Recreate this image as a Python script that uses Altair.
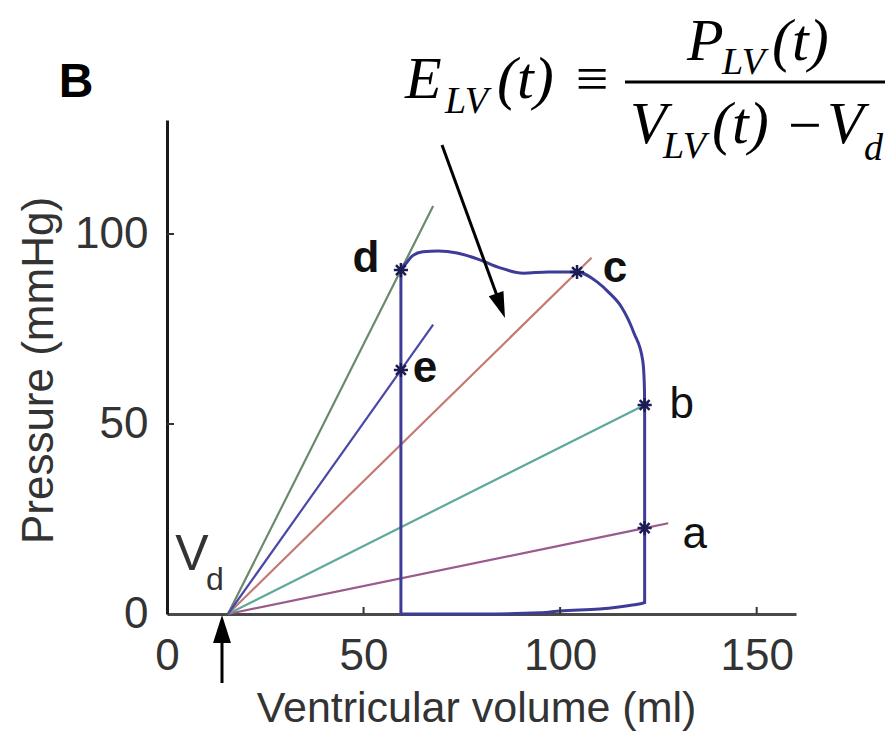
import altair as alt
import pandas as pd

# ---------------- data ----------------
vd_volume = 15.5  # dead volume V_d (ml)

loop_volume = [59.5, 80, 95, 100, 110, 118, 121.5, 121.5, 121.5, 121.4, 121.0,
               118.8, 115.6, 112.5, 109.4, 104.3, 97, 90.6, 84.7, 79.6, 73.8,
               69, 65.1, 62.5, 61, 59.5, 59.5, 59.5]
loop_pressure = [0, 0, 0.3, 0.8, 1.3, 2.3, 3, 22.6, 55, 61, 66.8,
                 73.9, 80.8, 84.5, 87.4, 90, 90, 89.7, 91.1, 93.2, 95,
                 95.5, 95.3, 94.3, 92.5, 90.5, 64.2, 0]

point_labels = ["a", "b", "c", "d", "e"]
point_volume = [121.5, 121.5, 104.3, 59.5, 59.5]
point_pressure = [22.6, 55, 90, 90.5, 64.2]
extension_volume = [127.5, 122.5, 108, 67.7, 67.7]
line_colors = ["#9b5a8c", "#5fa89a", "#c47a72", "#6b8a6b", "#4a48a8"]

x_ticks = [0, 50, 100, 150]
y_ticks = [0, 50, 100]

# ---------------- layout ----------------
W, H = 629, 494
SANS = "Liberation Sans, Arial, sans-serif"
SERIF = "Liberation Serif, Times New Roman, serif"
TXT = "#333333"

loop_df = pd.DataFrame({"V": loop_volume, "P": loop_pressure,
                        "i": list(range(len(loop_volume)))})

rows = []
for lab, pv, pp, ev in zip(point_labels, point_volume, point_pressure, extension_volume):
    slope = pp / (pv - vd_volume)
    rows.append({"label": lab, "k": 0, "V": vd_volume, "P": 0.0})
    rows.append({"label": lab, "k": 1, "V": pv, "P": pp})
    rows.append({"label": lab, "k": 2, "V": ev, "P": slope * (ev - vd_volume)})
elast_df = pd.DataFrame(rows)
points_df = pd.DataFrame({"label": point_labels, "V": point_volume, "P": point_pressure})

xscale = alt.Scale(domain=[0, 160], nice=False, zero=False)
yscale = alt.Scale(domain=[0, 130], nice=False, zero=False)

x_axis = alt.Axis(values=x_ticks, tickSize=0, labelPadding=20, labelFontSize=44,
                  labelFont=SANS, labelColor=TXT, labelFlush=False, labelOverlap=False,
                  domainColor="#4a4a4a", domainWidth=3, grid=False,
                  title="Ventricular volume (ml)", titleFont=SANS, titleFontSize=43,
                  titleFontWeight="normal", titleColor=TXT, titleX=309, titleY=107,
                  titleBaseline="alphabetic", titleAlign="center")
y_axis = alt.Axis(values=y_ticks, tickSize=0, labelPadding=19, labelFontSize=44,
                  labelFont=SANS, labelColor=TXT, labelFlush=False, labelOverlap=False,
                  domainColor="#1a1a1a", domainWidth=3, grid=False,
                  title="Pressure (mmHg)", titleFont=SANS, titleFontSize=44,
                  titleFontWeight="normal", titleColor=TXT, titleX=-115, titleY=250,
                  titleAngle=270, titleBaseline="alphabetic", titleAlign="center")

X = alt.X("V:Q", scale=xscale, axis=x_axis)
Y = alt.Y("P:Q", scale=yscale, axis=y_axis)
Xn = alt.X("V:Q", scale=xscale)
Yn = alt.Y("P:Q", scale=yscale)

elast = alt.Chart(elast_df).mark_line(strokeWidth=2.2).encode(
    x=X, y=Y,
    color=alt.Color("label:N", scale=alt.Scale(domain=point_labels, range=line_colors), legend=None),
    detail="label:N", order="k:Q")

loop = alt.Chart(loop_df).mark_line(strokeWidth=3, color="#3d3d99", interpolate="monotone").encode(
    x=Xn, y=Yn, order="i:Q")

star = "M-1,0L1,0M0,-1L0,1M-0.7,-0.7L0.7,0.7M-0.7,0.7L0.7,-0.7"
markers = alt.Chart(points_df).mark_point(shape=star, size=200, strokeWidth=2.5,
                                          color="#1c1c55", filled=False, opacity=1).encode(x=Xn, y=Yn)

label_style = {"a": (50, 20, "normal"), "b": (37, 13, "normal"), "c": (38, 10, "bold"),
               "d": (-35, 2, "bold"), "e": (24, 12, "bold")}
label_layers = []
for lab in point_labels:
    dx, dy, fw = label_style[lab]
    label_layers.append(
        alt.Chart(points_df).transform_filter(alt.datum.label == lab).mark_text(
            dx=dx, dy=dy, fontSize=44, font=SANS, fontWeight=fw, color="#111111",
            align="center", baseline="alphabetic").encode(x=Xn, y=Yn, text="label:N"))

# inward ticks (MATLAB style)
xt = alt.Chart(pd.DataFrame({"V": x_ticks[1:]})).mark_rule(color="#333333", strokeWidth=2).encode(
    x=Xn, y=alt.value(H), y2=alt.value(H - 7))
yt = alt.Chart(pd.DataFrame({"P": y_ticks[1:]})).mark_rule(color="#333333", strokeWidth=2).encode(
    y=Yn, x=alt.value(0), x2=alt.value(7))


def txt(s, x, y, size, font=SERIF, style="italic", weight="normal", align="left",
        baseline="alphabetic", color="black"):
    return alt.Chart(pd.DataFrame({"t": [s]})).mark_text(
        fontSize=size, font=font, fontStyle=style, fontWeight=weight, align=align,
        baseline=baseline, color=color).encode(x=alt.value(x), y=alt.value(y), text="t:N")


annotations = [
    txt("B", -91, -23, 48, font=SANS, style="normal", weight="bold", align="center"),
    txt("E", 238, -22, 60),
    txt("LV", 278, -7, 38),
    txt("(t)", 330, -22, 60),
    txt("≡", 425, -39, 58, style="normal", align="center", baseline="middle"),
    txt("P", 520, -60, 60),
    txt("LV", 555, -46, 38),
    txt("(t)", 605, -60, 60),
    txt("V", 463, 23, 60),
    txt("LV", 496, 38, 38),
    txt("(t)", 545, 23, 60),
    txt("−", 638, 7, 60, style="normal", align="center", baseline="middle"),
    txt("V", 660, 23, 60),
    txt("d", 697, 40, 38),
    txt("V", 25, 450, 50, font=SANS, style="normal", align="center", color=TXT),
    txt("d", 48, 470, 32, font=SANS, style="normal", align="center", color=TXT),
]

one = pd.DataFrame({"k": [0]})
frac_bar = alt.Chart(one).mark_rule(color="black", strokeWidth=3).encode(
    x=alt.value(458), x2=alt.value(725), y=alt.value(-38))
eq_arrow = alt.Chart(one).mark_rule(color="black", strokeWidth=3).encode(
    x=alt.value(275), y=alt.value(25), x2=alt.value(333), y2=alt.value(184))
eq_head = alt.Chart(one).mark_point(shape="M0,0L-0.3,-1L0.3,-1Z", size=2704, angle=340,
                                    filled=True, color="black", opacity=1, strokeWidth=0).encode(
    x=alt.value(338), y=alt.value(198))
vd_arrow = alt.Chart(one).mark_rule(color="black", strokeWidth=3).encode(
    x=alt.value(55), y=alt.value(515), y2=alt.value(563))
vd_head = alt.Chart(one).mark_point(shape="M0,0L-0.32,1L0.32,1Z", size=3136,
                                    filled=True, color="black", opacity=1, strokeWidth=0).encode(
    x=alt.value(55), y=alt.value(495))

chart = alt.layer(
    elast, loop, markers, *label_layers, xt, yt, frac_bar, eq_arrow, eq_head,
    vd_arrow, vd_head, *annotations
).properties(
    width=W, height=H,
    padding={"left": 159, "top": 112, "right": 89, "bottom": 117},
    autosize=alt.AutoSizeParams(type="none"),
    background="white",
).configure_view(stroke=None)

chart.save("out.html", embed_options={"renderer": "svg", "actions": False})
